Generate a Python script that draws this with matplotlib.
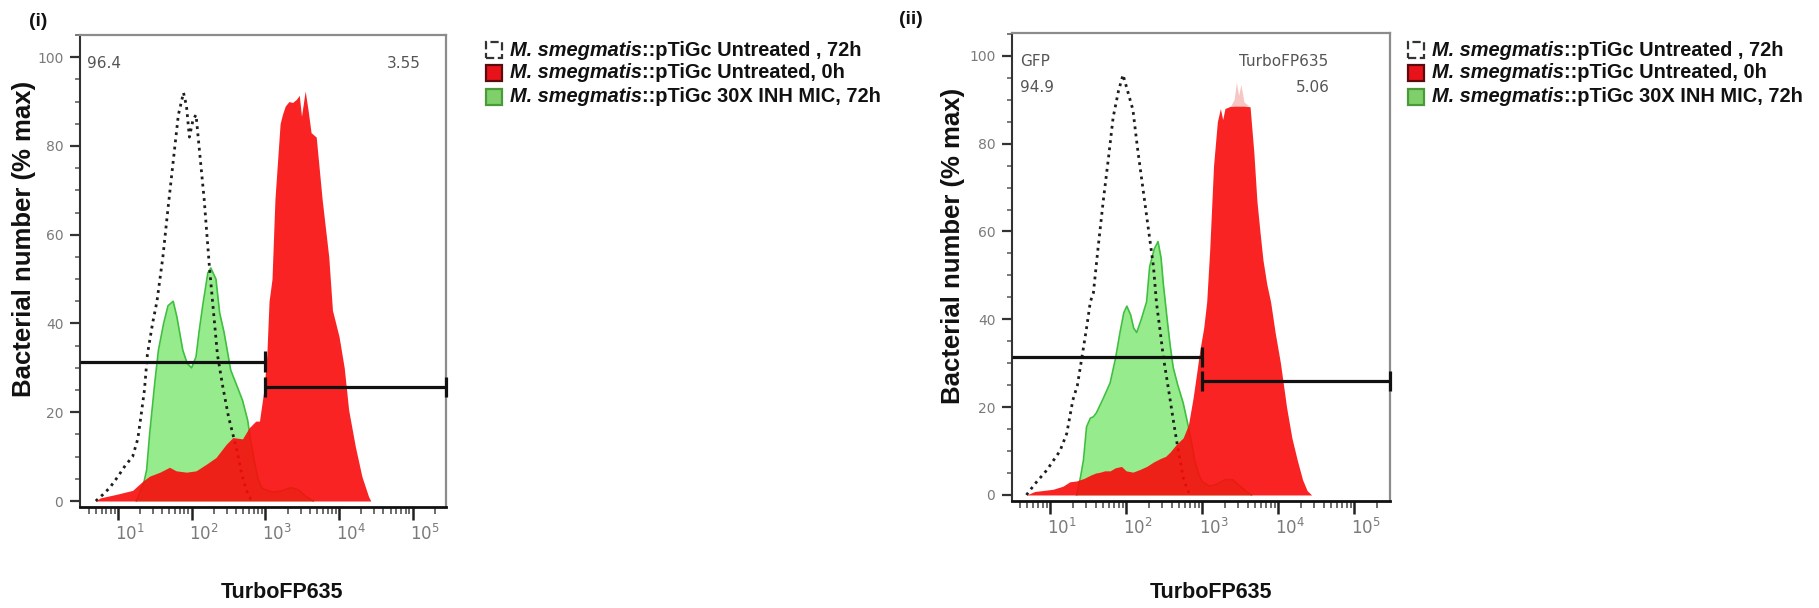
import numpy as np
import matplotlib
matplotlib.use("Agg")
import matplotlib.pyplot as plt
from matplotlib import font_manager
from matplotlib.patches import Rectangle
from matplotlib.ticker import FixedLocator, MultipleLocator, LogLocator, NullFormatter
from matplotlib.transforms import ScaledTranslation

W, H, DPI = 1819, 608, 100

# ---------------- data (log10 fluorescence, % of max) ----------------
# Panel (i)
p1_unt72_log = [0.70, 0.80, 0.89, 1.00, 1.10, 1.20, 1.27, 1.32, 1.36, 1.40, 1.47, 1.53, 1.61,
                1.68, 1.74, 1.82, 1.89, 1.93, 1.97, 2.02, 2.06, 2.10, 2.17, 2.24, 2.30, 2.35,
                2.42, 2.50, 2.56, 2.62, 2.68, 2.74, 2.80, 2.85]
p1_unt72_pct = [0, 1.5, 3, 5.5, 8, 10, 14, 20, 25, 33, 40, 45, 55,
                66, 75, 87, 92, 89, 82, 86, 87, 80, 68, 53, 42, 33,
                26, 19, 15, 11, 6, 2.5, 0.5, 0]

p1_inh_log = [1.25, 1.35, 1.39, 1.43, 1.50, 1.55, 1.62, 1.68, 1.75, 1.80, 1.88, 1.94, 2.00,
              2.06, 2.10, 2.15, 2.22, 2.26, 2.33, 2.38, 2.44, 2.53, 2.62, 2.69, 2.76, 2.80,
              2.85, 2.90, 2.95, 3.00, 3.10, 3.20, 3.35, 3.45, 3.55, 3.65]
p1_inh_pct = [0, 4, 7, 15, 26.6, 34, 40, 44, 45, 41.5, 34, 31, 30,
              32.5, 38, 44, 51.4, 52.5, 50, 42.4, 38, 29.5, 25.7, 22.7, 18.2, 13.7,
              9, 5, 3, 2.5, 2, 2.2, 3, 2.5, 1, 0]

p1_unt0_log = [0.70, 0.76, 0.98, 1.20, 1.34, 1.43, 1.57, 1.70, 1.79, 1.93, 2.06, 2.20, 2.33,
               2.47, 2.56, 2.69, 2.78, 2.87, 2.92, 2.98, 3.02, 3.05, 3.09, 3.13, 3.20, 3.23,
               3.27, 3.32, 3.37, 3.42, 3.46, 3.49, 3.54, 3.58, 3.62, 3.69, 3.77, 3.86, 3.91,
               4.00, 4.07, 4.13, 4.22, 4.31, 4.40, 4.43]
p1_unt0_pct = [0, 0.7, 1.5, 2.4, 4.5, 5.6, 6.5, 7.6, 6.8, 6.5, 6.8, 8.3, 9.8,
               12.8, 14.3, 14, 16.5, 18, 18, 25, 33, 45, 50, 68, 85, 87,
               89, 90, 89.8, 90.5, 91.4, 86.7, 92.4, 88, 83, 82, 68, 55, 43,
               37, 30, 20.5, 12.3, 5.5, 1, 0]

# Panel (ii)
p2_unt72_log = [0.69, 0.80, 0.96, 1.05, 1.13, 1.22, 1.30, 1.36, 1.42, 1.48, 1.53, 1.57, 1.63,
                1.70, 1.77, 1.83, 1.90, 1.96, 2.02, 2.09, 2.15, 2.22, 2.29, 2.36, 2.40, 2.45,
                2.49, 2.54, 2.58, 2.63, 2.67, 2.72, 2.75, 2.80, 2.84]
p2_unt72_pct = [0, 2.5, 5.7, 8, 10, 14, 21.6, 25, 31.4, 38, 44, 46, 56,
                67, 77, 86, 92, 95.7, 92, 87.7, 79, 70, 61, 52, 43.7, 37,
                31.4, 26, 21.6, 16, 11.8, 7, 4, 1.5, 0]

p2_inh_log = [1.35, 1.40, 1.44, 1.48, 1.53, 1.57, 1.61, 1.70, 1.79, 1.86, 1.92, 1.97, 2.01,
              2.06, 2.10, 2.14, 2.20, 2.27, 2.31, 2.37, 2.42, 2.46, 2.49, 2.54, 2.58, 2.62,
              2.68, 2.75, 2.82, 2.86, 2.90, 2.95, 3.00, 3.10, 3.20, 3.30, 3.40, 3.50, 3.60, 3.65]
p2_inh_pct = [0, 4, 8, 15.5, 17.5, 17.8, 18.7, 22, 25.5, 31, 37, 41.5, 43,
              41, 38, 37, 40, 44, 52, 56, 57.7, 54, 48, 40, 34, 29,
              25, 21, 15.5, 12, 8, 5, 3, 2, 2.5, 3.5, 3.5, 2, 0.5, 0]

p2_unt0_log = [0.69, 0.80, 0.90, 1.04, 1.17, 1.26, 1.35, 1.45, 1.53, 1.60, 1.66, 1.72, 1.79,
               1.86, 1.94, 2.00, 2.09, 2.18, 2.27, 2.36, 2.45, 2.52, 2.58, 2.66, 2.75, 2.82,
               2.88, 2.93, 2.97, 3.02, 3.06, 3.10, 3.15, 3.20, 3.24, 3.27, 3.30, 3.37, 3.42,
               3.45, 3.48, 3.51, 3.55, 3.63, 3.68, 3.72, 3.76, 3.80, 3.85, 3.90, 3.96, 4.03,
               4.07, 4.11, 4.18, 4.25, 4.32, 4.38, 4.44]
p2_unt0_pct = [0, 0.8, 1, 1.3, 2, 3, 3.2, 3.8, 4.5, 5, 5.2, 5.5, 5.5,
               6.2, 6.5, 5.5, 5.2, 5.8, 6.5, 7.5, 8.3, 8.8, 9.8, 11.5, 13, 16,
               22, 28, 33, 38, 44, 56, 75, 85, 88, 85.5, 88, 88.5, 90,
               94, 91, 93.5, 89.5, 88.4, 78, 67, 60, 53.5, 48, 44, 37, 30,
               25, 20, 13, 8, 3.5, 1, 0]
p2_display_cap = 88.6

# Gates: boundary (fluorescence) and drawing height (% max)
gate_split = 1000
p1_gate_heights = [31.4, 25.7]
p2_gate_heights = [31.4, 26.0]

# Gate statistics (% of events)
p1_stats = ["96.4", "3.55"]
p2_stats = ["94.9", "5.06"]
p2_stat_names = ["GFP", "TurboFP635"]

legend_species = "M. smegmatis"
legend_tails = ["::pTiGc Untreated , 72h",
                "::pTiGc Untreated, 0h",
                "::pTiGc 30X INH MIC, 72h"]

yticks = [0, 20, 40, 60, 80, 100]
xdecades = [1, 2, 3, 4, 5]

# ---------------- styling ----------------
RED = "#f90b0b"
RED_ALPHA = 0.9
GREEN_FILL = "#96ec8c"
GREEN_EDGE = "#3fbf3f"
PALE = "#f7c6c2"
DOT_COLOR = "#1e1e1e"
GRAY_TXT = "#7a7a7a"
STAT_TXT = "#555555"

names = {f.name for f in font_manager.fontManager.ttflist}
if "Liberation Sans Narrow" in names:
    NARROW, LEG_SIZE, XLAB_SIZE = "Liberation Sans Narrow", 17.0, 17.5
else:
    NARROW, LEG_SIZE, XLAB_SIZE = "Liberation Sans", 14.4, 15.5
BOLD_FAMILY = "Liberation Sans"

fig = plt.figure(figsize=(W / DPI, H / DPI), dpi=DPI)
fig.patch.set_facecolor("white")


def fx(x):
    return x / W


def fy(y):
    return 1 - y / H


def make_axes(left, right, top, bottom):
    return fig.add_axes([fx(left), fy(bottom), (right - left) / W, (bottom - top) / H])


def style_axes(ax, xlim, ylim):
    ax.set_xscale("log")
    ax.set_xlim(*xlim)
    ax.set_ylim(*ylim)
    ax.yaxis.set_major_locator(FixedLocator(yticks))
    ax.yaxis.set_minor_locator(MultipleLocator(5))
    ax.set_yticklabels([str(v) for v in yticks])
    ax.xaxis.set_major_locator(FixedLocator([10.0 ** d for d in xdecades]))
    ax.xaxis.set_minor_locator(LogLocator(base=10, subs=np.arange(2, 10)))
    ax.xaxis.set_minor_formatter(NullFormatter())
    ax.set_xticklabels([r"$10^{%d}$" % d for d in xdecades])
    ax.tick_params(axis="y", which="major", length=7, width=1.6, color="#333333",
                   labelsize=10, labelcolor=GRAY_TXT, pad=5, direction="out")
    ax.tick_params(axis="y", which="minor", length=3.8, width=1.1, color="#555555",
                   direction="out")
    ax.tick_params(axis="x", which="major", length=9, width=1.8, color="#222222",
                   labelsize=12, labelcolor=GRAY_TXT, pad=3, direction="out")
    ax.tick_params(axis="x", which="minor", length=5, width=1.1, color="#444444",
                   direction="out")
    shift = ScaledTranslation(0.12, 0, fig.dpi_scale_trans)
    for lab in ax.get_xticklabels():
        lab.set_transform(lab.get_transform() + shift)
    for side in ("top", "right"):
        ax.spines[side].set_color("#8c8c8c")
        ax.spines[side].set_linewidth(1.6)
    ax.spines["left"].set_color("#333333")
    ax.spines["left"].set_linewidth(1.5)
    ax.spines["bottom"].set_color("#111111")
    ax.spines["bottom"].set_linewidth(2.0)


def draw_histograms(ax, d_log, d_pct, g_log, g_pct, r_log, r_pct, cap=None):
    dx = 10.0 ** np.asarray(d_log)
    gx = 10.0 ** np.asarray(g_log)
    rx = 10.0 ** np.asarray(r_log)
    dy = np.asarray(d_pct, float)
    gy = np.asarray(g_pct, float)
    ry = np.asarray(r_pct, float)
    ax.fill_between(gx, 0, gy, color=GREEN_FILL, lw=0, zorder=2)
    ax.plot(gx, gy, color=GREEN_EDGE, lw=1.2, zorder=2)
    ax.plot(dx, dy, color=DOT_COLOR, lw=2.0, ls=(0, (1, 1.6)), zorder=3)
    if cap is None:
        ax.fill_between(rx, 0, ry, color=RED, alpha=RED_ALPHA, lw=0, zorder=4)
    else:
        ax.fill_between(rx, 0, np.minimum(ry, cap), color=RED, alpha=RED_ALPHA, lw=0, zorder=4)
        ax.fill_between(rx, cap, ry, where=ry > cap, interpolate=True,
                        color=PALE, lw=0, zorder=4)


def draw_gates(ax, heights, xlim):
    h1, h2 = heights
    bar = 2.3
    kw = dict(color="#111111", lw=2.3, zorder=6, solid_capstyle="butt", clip_on=False)
    ax.plot([xlim[0], gate_split], [h1, h1], **kw)
    ax.plot([gate_split, gate_split], [h1 - bar, h1 + bar], **kw)
    ax.plot([gate_split, xlim[1]], [h2, h2], **kw)
    ax.plot([gate_split, gate_split], [h2 - bar, h2 + bar], **kw)
    ax.plot([xlim[1], xlim[1]], [h2 - bar, h2 + bar], **kw)


def ax_frac(box, px, py):
    left, right, top, bottom = box
    return (px - left) / (right - left), (bottom - py) / (bottom - top)


def stat_text(ax, box, px, py, s, ha):
    x, y = ax_frac(box, px, py)
    ax.text(x, y, s, transform=ax.transAxes, ha=ha, va="center",
            fontsize=11, color=STAT_TXT, family="DejaVu Sans")


def draw_legend(host_ax, x_patch, x_text, rows_y):
    pw, ph = 16, 16
    faces = ["white", "#e8121a", "#7fcf6a"]
    edges = ["#333333", "#5a0b0b", "#4a9a3a"]
    styles = ["--", "-", "-"]
    for yc, fc, ec, ls, tail in zip(rows_y, faces, edges, styles, legend_tails):
        fig.add_artist(Rectangle((fx(x_patch), fy(yc + ph / 2)), pw / W, ph / H,
                                 transform=fig.transFigure, fc=fc, ec=ec, ls=ls, lw=1.6))
        t1 = fig.text(fx(x_text), fy(yc), legend_species, ha="left", va="center",
                      family=NARROW, fontsize=LEG_SIZE, fontweight="bold",
                      fontstyle="italic", color="#111111")
        host_ax.annotate(tail, xy=(1, 0), xycoords=t1, ha="left", va="bottom",
                         family=NARROW, fontsize=LEG_SIZE, fontweight="bold",
                         color="#111111", annotation_clip=False)


# ---------------- panel (i) ----------------
box1 = (80, 446, 35, 507)
xlim1 = (10 ** 0.486, 10 ** 5.45)
ax1 = make_axes(*box1)
style_axes(ax1, xlim1, (-1.35, 105))
draw_histograms(ax1, p1_unt72_log, p1_unt72_pct, p1_inh_log, p1_inh_pct,
                p1_unt0_log, p1_unt0_pct)
draw_gates(ax1, p1_gate_heights, xlim1)
stat_text(ax1, box1, 87, 63, p1_stats[0], "left")
stat_text(ax1, box1, 421, 63, p1_stats[1], "right")

# ---------------- panel (ii) ----------------
box2 = (1012, 1390, 33, 501)
xlim2 = (10 ** 0.5, 10 ** 5.47)
ax2 = make_axes(*box2)
style_axes(ax2, xlim2, (-1.37, 105.2))
draw_histograms(ax2, p2_unt72_log, p2_unt72_pct, p2_inh_log, p2_inh_pct,
                p2_unt0_log, p2_unt0_pct, cap=p2_display_cap)
draw_gates(ax2, p2_gate_heights, xlim2)
stat_text(ax2, box2, 1020, 62, p2_stat_names[0], "left")
stat_text(ax2, box2, 1020, 87, p2_stats[0], "left")
stat_text(ax2, box2, 1328, 62, p2_stat_names[1], "right")
stat_text(ax2, box2, 1330, 87, p2_stats[1], "right")

# axis titles
for ax, box, lx, ly, tx, ty in [(ax1, box1, 24, 239, 282, 593),
                                (ax2, box2, 953, 246, 1211, 593)]:
    fig.text(fx(lx), fy(ly), "Bacterial number (% max)", rotation=90,
             ha="center", va="center", family=BOLD_FAMILY, fontweight="bold",
             fontsize=18.5, color="#111111")
    fig.text(fx(tx), fy(ty), "TurboFP635", ha="center", va="center",
             family=NARROW, fontweight="bold", fontsize=XLAB_SIZE, color="#111111")

# panel tags
fig.text(fx(38), fy(21), "(i)", ha="center", va="center", family=BOLD_FAMILY,
         fontweight="bold", fontsize=14, color="#111111")
fig.text(fx(911), fy(20), "(ii)", ha="center", va="center", family=BOLD_FAMILY,
         fontweight="bold", fontsize=14, color="#111111")

# legends
draw_legend(ax1, 486, 510, [50, 73, 97])
draw_legend(ax2, 1408, 1432, [50, 73, 97])

fig.savefig("out.png", dpi=DPI, facecolor="white")
